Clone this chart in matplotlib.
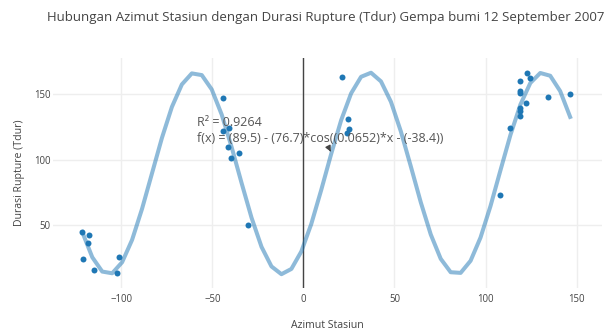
import numpy as np
import matplotlib
matplotlib.use("Agg")
import matplotlib.pyplot as plt

plt.rcParams['font.family'] = ['Open Sans', 'DejaVu Sans']

# Observed stations
azimut = [-121.5, -118.0, -118.2, -121.0, -115.3, -101.4, -102.6,
          -44.2, -44.1, -40.8, -41.5, -35.4, -39.8, -30.5,
          21.0, 24.6, 25.0, 23.7,
          107.8, 113.6, 118.8, 118.9, 119.0, 118.8, 118.9, 118.8, 122.3, 123.0, 124.3, 134.6, 146.5]
tdur = [45.1, 42.6, 36.3, 24.3, 16.2, 25.9, 13.5,
        146.5, 121.9, 124.2, 109.3, 104.7, 101.1, 50.4,
        163.0, 130.8, 123.0, 120.4,
        73.3, 123.7, 133.0, 137.1, 139.0, 150.5, 152.3, 159.9, 143.2, 165.5, 161.7, 147.2, 149.6]

# Fitted curve (50 evenly spaced samples across the azimuth range)
fit_y = [44.8, 25.7, 14.8, 13.5, 21.9, 38.9, 62.5, 89.5, 116.5, 140.0,
         157.1, 165.5, 164.2, 153.3, 134.2, 109.4, 82.1, 55.7, 33.6, 18.7,
         12.8, 16.8, 30.1, 51.0, 76.9, 104.3, 129.9, 150.3, 162.9, 166.0,
         159.4, 143.9, 121.3, 94.7, 67.4, 43.0, 24.5, 14.3, 13.8, 23.0,
         40.7, 64.6, 91.8, 118.6, 141.7, 158.2, 165.8, 163.7, 152.0, 132.4]
fit_x = np.linspace(min(azimut), max(azimut), len(fit_y))

x_ticks = [-100, -50, 0, 50, 100, 150]
y_ticks = [50, 100, 150]

title = "Hubungan Azimut Stasiun dengan Durasi Rupture (Tdur) Gempa bumi 12 September 2007"
note = "R\u00b2 = 0.9264\nf(x) = (89.5) - (76.7)*cos((0.0652)*x - (-38.4))"

W, H = 610, 333
fig = plt.figure(figsize=(W/100, H/100), dpi=100)
L, R, T, B = 53, 602, 58, 288
ax = fig.add_axes([L/W, (H-B)/H, (R-L)/W, (B-T)/H])
ax.set_xlim(-137.6, 164.0)
ax.set_ylim(2.3, 177.2)
for s in ax.spines.values():
    s.set_visible(False)
ax.set_xticks(x_ticks)
ax.set_yticks(y_ticks)
ax.grid(True, color='#eeeeee', linewidth=1)
ax.set_axisbelow(True)
ax.tick_params(length=0, labelsize=6.9, colors='#444444')
ax.tick_params(axis='x', pad=4)
ax.tick_params(axis='y', pad=2)
ax.axvline(0, color='#444444', linewidth=1, zorder=1.5)

ax.plot(fit_x, fit_y, color='#1f77b4', alpha=0.5, linewidth=2.9, zorder=2)
ax.plot(azimut, tdur, 'o', color='#1f77b4', markersize=4.3, markeredgewidth=0, zorder=3)

ax.annotate(note, xy=(15, 106), xytext=(197, H-131), textcoords='figure pixels',
            ha='left', va='center', fontsize=9.0, color='#555555', linespacing=1.3,
            arrowprops=dict(arrowstyle='-|>', color='#444444', lw=1, mutation_scale=8))

fig.text(326/W, 1-17/H, title, ha='center', va='center', fontsize=9.5, color='#444444')
fig.text(327.5/W, 1-325/H, "Azimut Stasiun", ha='center', va='center', fontsize=7.6, color='#444444')
fig.text(20/W, 1-173/H, "Durasi Rupture (Tdur)", ha='center', va='center', rotation=90,
         fontsize=7.6, color='#444444')

fig.savefig("out.png", dpi=100)
